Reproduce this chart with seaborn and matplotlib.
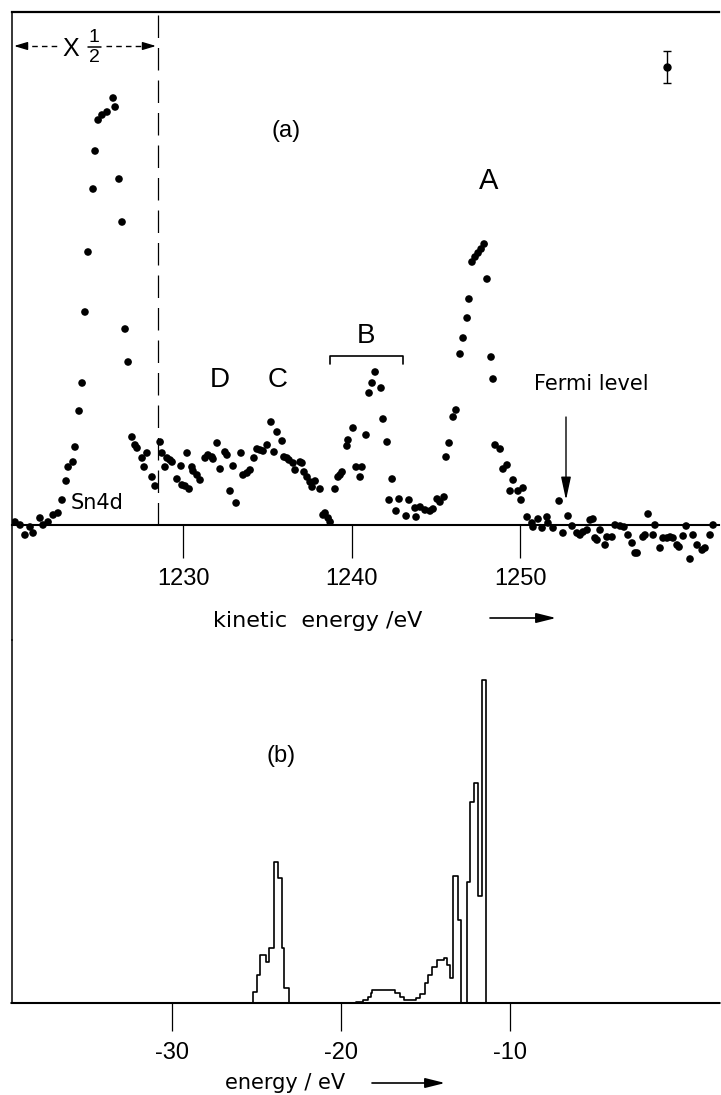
import matplotlib
matplotlib.use("Agg")
import matplotlib.pyplot as plt
from matplotlib.lines import Line2D
import pandas as pd
import seaborn as sns

# ---------------- panel (a): measured spectrum ----------------
# kinetic energy (eV) and intensity (arb. units); left of the dashed line scaled x1/2
ke_sn4d = [1220.03, 1220.33, 1220.62, 1220.92, 1221.10, 1221.51, 1221.69, 1221.99, 1222.29, 1222.58,
           1222.82, 1223.06, 1223.18, 1223.47, 1223.59, 1223.83, 1224.01, 1224.18, 1224.36, 1224.66,
           1224.78, 1224.96, 1225.19, 1225.49, 1225.85, 1225.97, 1226.20, 1226.38, 1226.56, 1226.74,
           1226.97, 1227.15, 1227.27, 1227.57, 1227.69, 1227.86, 1228.16, 1228.34]
int_sn4d = [0.3, 0.0, -1.0, -0.2, -0.8, 0.7, 0.0, 0.3, 1.0, 1.2,
            2.5, 4.4, 5.8, 6.3, 7.8, 11.4, 14.2, 21.3, 27.3, 33.6,
            37.4, 40.5, 41.0, 41.3, 42.7, 41.8, 34.6, 30.3, 19.6, 16.3,
            8.8, 8.0, 7.7, 6.7, 5.8, 7.2, 4.8, 3.9]

ke_dc = [1228.64, 1228.75, 1228.93, 1229.05, 1229.23, 1229.35, 1229.64, 1229.88, 1229.94, 1230.12,
         1230.24, 1230.36, 1230.53, 1230.59, 1230.83, 1231.01, 1231.31, 1231.48, 1231.72, 1231.78,
         1232.02, 1232.20, 1232.49, 1232.61, 1232.79, 1232.97, 1233.15, 1233.44, 1233.56, 1233.80,
         1233.98, 1234.21, 1234.39, 1234.57, 1234.75, 1234.99, 1235.22, 1235.40, 1235.58, 1235.88,
         1235.99, 1236.17, 1236.29, 1236.53, 1236.65, 1236.95, 1237.06, 1237.18, 1237.36, 1237.54,
         1237.66, 1237.84, 1238.13, 1238.31, 1238.43, 1238.61, 1238.73]
int_dc = [8.3, 7.2, 5.8, 6.7, 6.5, 6.3, 4.6, 5.9, 4.0, 3.9,
          7.2, 3.6, 5.8, 5.4, 5.0, 4.5, 6.7, 7.0, 6.8, 6.6,
          8.2, 5.6, 7.3, 7.0, 3.4, 5.9, 2.2, 7.2, 5.0, 5.2,
          5.5, 6.7, 7.6, 7.5, 7.4, 8.0, 10.3, 7.3, 9.3, 8.4,
          6.8, 6.7, 6.5, 6.2, 5.5, 6.3, 6.2, 5.3, 4.8, 4.3,
          3.8, 4.4, 3.6, 1.0, 1.2, 0.7, 0.3]

ke_b = [1239.02, 1239.20, 1239.32, 1239.44, 1239.73, 1239.79, 1240.09, 1240.27, 1240.51, 1240.62,
        1240.86, 1241.04, 1241.22, 1241.40, 1241.75, 1241.87, 1242.11, 1242.23, 1242.41, 1242.64,
        1242.82, 1243.24, 1243.41, 1243.77, 1243.83, 1244.07, 1244.36, 1244.66, 1244.84, 1245.08,
        1245.25, 1245.49]
int_b = [3.6, 4.8, 5.0, 5.3, 7.9, 8.5, 9.7, 5.8, 4.8, 5.8,
         9.0, 13.2, 14.2, 15.3, 13.7, 10.6, 8.3, 2.5, 4.6, 1.4,
         2.6, 0.9, 2.5, 1.7, 0.8, 1.8, 1.5, 1.4, 1.6, 2.6,
         2.3, 2.8]

ke_a = [1245.61, 1245.79, 1246.03, 1246.20, 1246.44, 1246.62, 1246.86, 1246.97, 1247.15, 1247.33,
        1247.51, 1247.69, 1247.87, 1248.04, 1248.28, 1248.40, 1248.52, 1248.82, 1248.99, 1249.23,
        1249.41, 1249.59, 1249.88, 1250.06, 1250.18]
int_a = [6.8, 8.2, 10.8, 11.5, 17.1, 18.7, 20.7, 22.6, 26.3, 26.8,
         27.2, 27.6, 28.1, 24.6, 16.8, 14.6, 8.0, 7.6, 5.6, 6.0,
         3.4, 4.5, 3.4, 2.5, 3.7]

ke_tail = [1250.42, 1250.71, 1250.77, 1251.07, 1251.31, 1251.60, 1251.66, 1251.96, 1252.32, 1252.55,
           1252.85, 1253.09, 1253.38, 1253.56, 1253.74, 1253.98, 1254.16, 1254.33, 1254.45, 1254.57,
           1254.75, 1255.05, 1255.16, 1255.46, 1255.64, 1255.94, 1256.17, 1256.41, 1256.65, 1256.83,
           1256.95, 1257.30, 1257.42, 1257.60, 1257.90, 1258.01, 1258.31, 1258.49, 1258.73, 1258.91,
           1259.08, 1259.32, 1259.44, 1259.68, 1259.86, 1260.09, 1260.27, 1260.51, 1260.81, 1260.98,
           1261.28, 1261.46]
int_tail = [0.8, 0.2, -0.2, 0.6, -0.3, 0.8, 0.2, -0.3, 2.4, -0.8,
            0.9, -0.1, -0.8, -1.0, -0.7, -0.5, 0.5, 0.6, -1.3, -1.5,
            -0.5, -2.0, -1.2, -1.2, 0.0, -0.1, -0.2, -1.0, -1.8, -2.8,
            -2.8, -1.2, -1.0, 1.1, -1.0, 0.0, -2.3, -1.3, -1.3, -1.2,
            -1.3, -2.0, -2.2, -1.1, -0.1, -3.4, -1.0, -2.0, -2.5, -2.3,
            -1.0, 0.0]

ke_ticks = [1230, 1240, 1250]
ke_ticklabels = ["1230", "1240", "1250"]
scale_boundary_ke = 1228.52          # dashed line: x1/2 region to its left
errbar_ke, errbar_int, errbar_err = 1258.72, 45.8, 1.6

# ---------------- panel (b): calculated density of states ----------------
dos_edges = [-39.5, -25.2, -25.0, -24.8, -24.45, -24.25, -23.95, -23.7, -23.5, -23.35,
             -23.1, -19.1, -18.7, -18.4, -18.25, -18.15, -16.8, -16.5, -16.25, -16.0,
             -15.55, -15.3, -15.05, -14.85, -14.6, -14.3, -13.9, -13.75, -13.55, -13.4,
             -13.1, -12.9, -12.55, -12.35, -12.15, -11.9, -11.65, -11.4, 2.4]
dos_height = [0.0, 1.1, 2.8, 4.8, 4.1, 5.5, 14.1, 12.5, 5.5, 1.5,
              0.0, 0.1, 0.3, 0.6, 1.0, 1.3, 1.0, 0.6, 0.3, 0.3,
              0.5, 0.9, 2.0, 2.8, 3.6, 4.3, 4.5, 3.8, 2.5, 12.7,
              8.3, 0.0, 12.1, 20.1, 22.0, 10.7, 32.3, 0.0]
dos_ticks = [-30, -20, -10]
dos_ticklabels = ["-30", "-20", "-10"]

# ---------------- figure ----------------
sns.set_theme(style="white")
plt.rcParams["font.family"] = ["Liberation Sans", "DejaVu Sans"]
WORD = ["DejaVu Sans"]

W, H = 721, 1095
fig = plt.figure(figsize=(W / 100, H / 100), dpi=100)


def fx(x):
    return x / W


def fy(y):
    return 1 - y / H


ax1 = fig.add_axes([fx(12), fy(640), (719 - 12) / W, (640 - 12) / H])
ax2 = fig.add_axes([fx(12), fy(1003), (719 - 12) / W, (1003 - 640) / H])
for ax in (ax1, ax2):
    ax.set_facecolor("none")

df_a = pd.DataFrame({
    "kinetic_energy": ke_sn4d + ke_dc + ke_b + ke_a + ke_tail,
    "intensity": int_sn4d + int_dc + int_b + int_a + int_tail,
})
sns.scatterplot(data=df_a, x="kinetic_energy", y="intensity", ax=ax1, s=30,
                color="black", edgecolor="none", legend=False, zorder=3)
ax1.errorbar(errbar_ke, errbar_int, yerr=errbar_err, fmt="o", color="black",
             ms=5, capsize=3, elinewidth=1, capthick=1)
ax1.plot([scale_boundary_ke, scale_boundary_ke], [0, 52], color="black",
         lw=0.9, ls=(0, (18, 8)))

ax1.set_xlim(1219.85, 1261.81)
ax1.set_ylim(-11.5, 51.3)
ax1.set_xticks(ke_ticks)
ax1.set_xticklabels(ke_ticklabels)
ax1.set_yticks([])
ax1.set_xlabel("")
ax1.set_ylabel("")
ax1.spines["right"].set_visible(False)
ax1.spines["top"].set_linewidth(1.6)
ax1.spines["left"].set_linewidth(1.1)
ax1.spines["bottom"].set_position(("data", 0))
ax1.spines["bottom"].set_linewidth(1.5)
for s in ax1.spines.values():
    s.set_color("black")
ax1.tick_params(axis="x", direction="out", length=24, width=0.9, pad=7,
                labelsize=17, colors="black", bottom=True)

dos_steps = dos_height + [dos_height[-1]]
sns.lineplot(x=dos_edges, y=dos_steps, ax=ax2, drawstyle="steps-post",
             estimator=None, sort=False, color="black", lw=1.2, clip_on=False)
ax2.set_xlim(-39.47, 2.37)
ax2.set_ylim(0, 36.3)
ax2.set_xticks(dos_ticks)
ax2.set_xticklabels(dos_ticklabels)
ax2.set_yticks([])
ax2.set_xlabel("")
ax2.set_ylabel("")
ax2.spines["right"].set_visible(False)
ax2.spines["top"].set_visible(False)
ax2.spines["left"].set_linewidth(1.1)
ax2.spines["bottom"].set_linewidth(1.5)
for s in ax2.spines.values():
    s.set_color("black")
ax2.tick_params(axis="x", direction="out", length=20, width=0.9, pad=8,
                labelsize=17, colors="black", bottom=True)

# ---------------- annotations (figure pixel positions) ----------------
def txt(x, y, s, size, family=None, **kw):
    kw.setdefault("ha", "center")
    kw.setdefault("va", "center")
    if family is not None:
        kw["family"] = family
    fig.text(fx(x), fy(y), s, fontsize=size, color="black", **kw)


def line(xs, ys, **kw):
    fig.add_artist(Line2D([fx(v) for v in xs], [fy(v) for v in ys],
                          transform=fig.transFigure, color="black", **kw))


def arrow(x0, y0, x1, y1, hl=1.4, hw=0.3, ms=10, lw=1.0):
    fig.add_artist(matplotlib.patches.FancyArrowPatch(
        (fx(x0), fy(y0)), (fx(x1), fy(y1)), transform=fig.transFigure,
        arrowstyle=f"-|>,head_length={hl},head_width={hw}", mutation_scale=ms,
        color="black", lw=lw, shrinkA=0, shrinkB=0))


# x 1/2 marker
line([22, 58], [46, 46], lw=1.0, ls=(0, (4, 3)))
arrow(26, 46, 14, 46, hl=1.0, hw=0.3, ms=8, lw=1.0)
line([106, 146], [46, 46], lw=1.0, ls=(0, (4, 3)))
arrow(144, 46, 156, 46, hl=1.0, hw=0.3, ms=8, lw=1.0)
txt(71, 49, "X", 18)
txt(94, 38, "1", 14)
txt(94, 58, "2", 14)
line([88, 101], [47, 47], lw=1.1)

txt(286, 131, "(a)", 17)
txt(489, 181, "A", 21)
txt(220, 380, "D", 20)
txt(278, 380, "C", 20)
txt(366, 336, "B", 20)
line([330, 330, 403, 403], [364, 356, 356, 364], lw=1.2)
txt(71, 503, "Sn4d", 15, family=WORD, ha="left")
txt(591, 384, "Fermi level", 15, family=WORD)
arrow(566, 417, 566, 500, hl=1.4, hw=0.3, ms=10, lw=1.0)

txt(318, 621, "kinetic  energy /eV", 16, family=WORD)
arrow(490, 618, 556, 618, hl=1.2, hw=0.3, ms=10, lw=1.2)

txt(281, 756, "(b)", 17)
txt(285, 1083, "energy / eV", 15, family=WORD)
arrow(372, 1083, 445, 1083, hl=1.2, hw=0.3, ms=10, lw=1.2)

fig.savefig("out.png", dpi=100)
